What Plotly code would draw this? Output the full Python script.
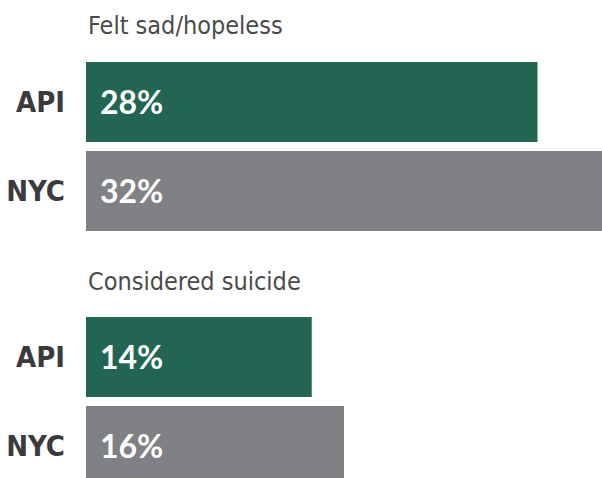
import plotly.graph_objects as go

# Survey measures and the two populations compared
measures = ["Felt sad/hopeless", "Considered suicide"]
groups = ["API", "NYC"]
felt_sad_pct = [28, 32]
considered_suicide_pct = [14, 16]
group_colors = ["#216552", "#808185"]

series = [felt_sad_pct, considered_suicide_pct]

W, H = 602, 478
fig = go.Figure()

label_font = dict(family="DejaVu Sans Condensed, sans-serif",
                  size=29, color="#3b3b3d", weight="bold")
title_font = dict(family="DejaVu Sans Condensed, sans-serif",
                  size=25, color="#4a4a4c")
pct_font = dict(family="Lato, Open Sans, sans-serif", size=32, color="#ffffff", weight="bold")

annotations = []
for i, (measure, values) in enumerate(zip(measures, series)):
    suffix = "" if i == 0 else str(i + 1)
    fig.add_trace(go.Bar(
        x=values, y=groups, orientation="h",
        marker=dict(color=group_colors, line=dict(width=0)),
        xaxis="x" + suffix, yaxis="y" + suffix,
        hoverinfo="skip", showlegend=False,
    ))
    for g, v in zip(groups, values):
        annotations.append(dict(
            x=0, y=g, xref="x" + suffix, yref="y" + suffix,
            text=f"{v}%", showarrow=False, xanchor="left", xshift=12, yshift=1,
            font=pct_font,
        ))

# Pixel layout of the two panels
left_px = 86
slot_px = 89
top1_px = 57.5
top2_px = 312.5

def frac(px):
    return 1 - px / H

axis_common = dict(showgrid=False, zeroline=False, showline=False, automargin=False)
fig.update_layout(
    width=W, height=H,
    margin=dict(l=0, r=0, t=0, b=0),
    paper_bgcolor="white", plot_bgcolor="white",
    bargap=9 / 89,
    xaxis=dict(domain=[left_px / W, 1], range=[0, 32], showticklabels=False, **axis_common),
    xaxis2=dict(domain=[left_px / W, 1], range=[0, 32], showticklabels=False, anchor="y2", **axis_common),
    yaxis=dict(domain=[frac(top1_px + 2 * slot_px), frac(top1_px)],
               range=[1.5, -0.5], type="category", tickfont=label_font,
               ticklabelstandoff=20, **axis_common),
    yaxis2=dict(domain=[0, frac(top2_px)],
                range=[(H - top2_px) / slot_px - 0.5, -0.5], type="category", tickfont=label_font,
                ticklabelstandoff=20, anchor="x2", **axis_common),
    annotations=annotations + [
        dict(x=86 / W, y=frac(25), xref="paper", yref="paper", text=measures[0],
             showarrow=False, xanchor="left", yanchor="middle", font=title_font),
        dict(x=86 / W, y=frac(281), xref="paper", yref="paper", text=measures[1],
             showarrow=False, xanchor="left", yanchor="middle", font=title_font),
    ],
)

fig.write_html("out.html")
